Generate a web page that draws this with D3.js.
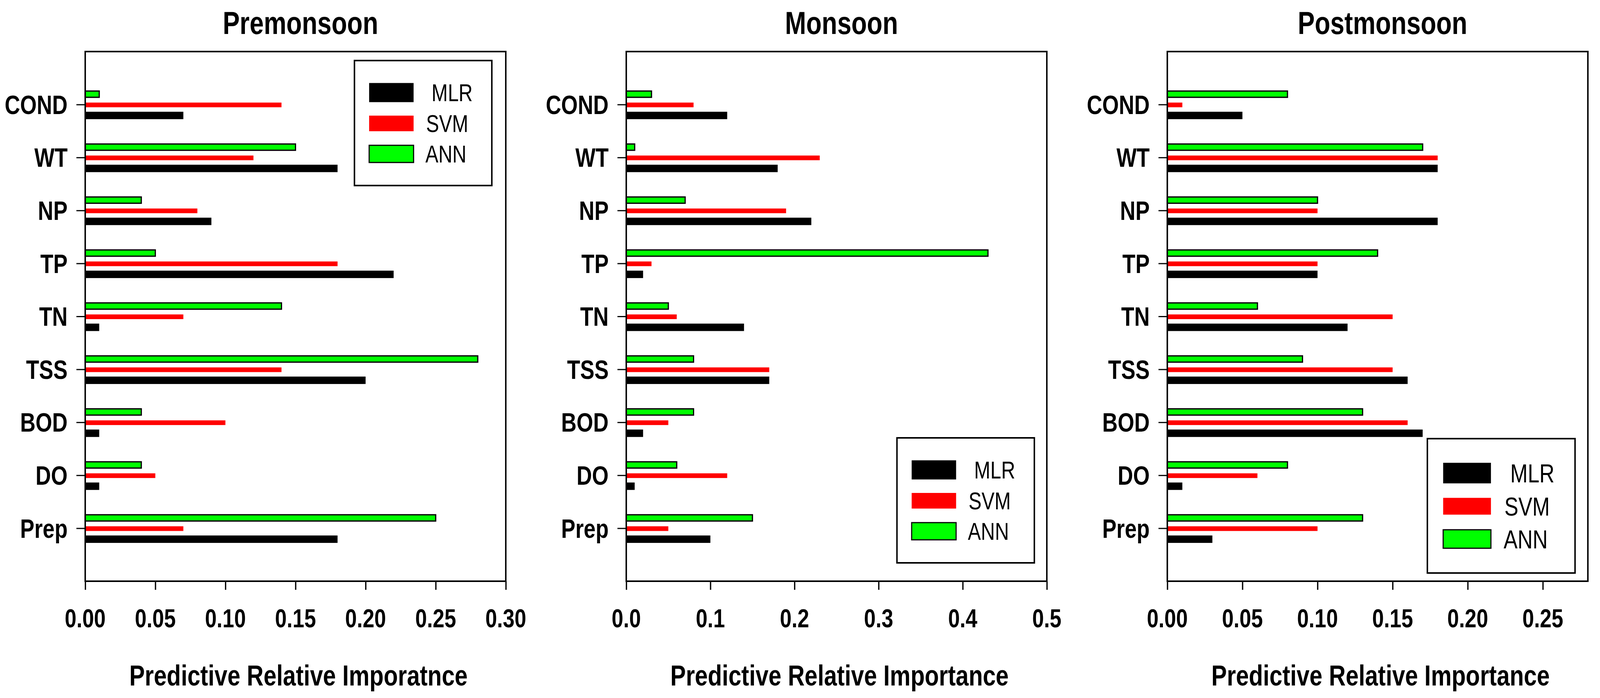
<!DOCTYPE html>
<html>
<head>
<meta charset="utf-8">
<script src="https://cdn.jsdelivr.net/npm/d3@7"></script>
<style>
  html, body { margin: 0; padding: 0; background: #fff; overflow: hidden; }
  #chart { display: block; width: 100vw; height: 100vh; }
  text { font-family: "Liberation Sans", Arial, sans-serif; fill: #000; }
</style>
</head>
<body>
<svg id="chart"></svg>
<script>
// Categories, top to bottom
const categories = ["COND", "WT", "NP", "TP", "TN", "TSS", "BOD", "DO", "Prep"];
const seriesNames = ["MLR", "SVM", "ANN"];

// Premonsoon
const preMLR = [0.07, 0.18, 0.09, 0.22, 0.01, 0.20, 0.01, 0.01, 0.18];
const preSVM = [0.14, 0.12, 0.08, 0.18, 0.07, 0.14, 0.10, 0.05, 0.07];
const preANN = [0.01, 0.15, 0.04, 0.05, 0.14, 0.28, 0.04, 0.04, 0.25];

// Monsoon
const monMLR = [0.12, 0.18, 0.22, 0.02, 0.14, 0.17, 0.02, 0.01, 0.10];
const monSVM = [0.08, 0.23, 0.19, 0.03, 0.06, 0.17, 0.05, 0.12, 0.05];
const monANN = [0.03, 0.01, 0.07, 0.43, 0.05, 0.08, 0.08, 0.06, 0.15];

// Postmonsoon
const postMLR = [0.05, 0.18, 0.18, 0.10, 0.12, 0.16, 0.17, 0.01, 0.03];
const postSVM = [0.01, 0.18, 0.10, 0.10, 0.15, 0.15, 0.16, 0.06, 0.10];
const postANN = [0.08, 0.17, 0.10, 0.14, 0.06, 0.09, 0.13, 0.08, 0.13];

// Tick values
const preTicks = [0, 0.05, 0.10, 0.15, 0.20, 0.25, 0.30];
const monTicks = [0, 0.1, 0.2, 0.3, 0.4, 0.5];
const postTicks = [0, 0.05, 0.10, 0.15, 0.20, 0.25];

const W = 4356, H = 1787;
const TOP = 132, BOTTOM = 1488, PW = 1145;
const SQ = 0.855; // horizontal squeeze, the original font is a narrow one

const panels = [
  { title: "Premonsoon", left: 232, max: 0.30, ticks: preTicks, fmt: ".2f",
    xlabel: "Predictive Relative Imporatnce", vals: [preMLR, preSVM, preANN],
    legend: { x: 733, y: 155, k: 1 } },
  { title: "Monsoon", left: 1705, max: 0.50, ticks: monTicks, fmt: ".1f",
    xlabel: "Predictive Relative Importance", vals: [monMLR, monSVM, monANN],
    legend: { x: 737, y: 1121, k: 1.0 } },
  { title: "Postmonsoon", left: 3178, max: 0.28, ticks: postTicks, fmt: ".2f",
    xlabel: "Predictive Relative Importance", vals: [postMLR, postSVM, postANN],
    legend: { x: 708, y: 1123, k: 1.075 } }
];

// bar look per series: offset from category centre, thickness
const barStyle = {
  MLR: { fill: "#000", dy: 28, h: 19, stroke: "none" },
  SVM: { fill: "#ff0000", dy: 1, h: 12, stroke: "none" },
  ANN: { fill: "#00ff00", dy: -26.5, h: 16, stroke: "#000" }
};

// the drawing is made in reference pixels and stretched to fill the window
const svg = d3.select("#chart")
  .attr("viewBox", `0 0 ${W} ${H}`)
  .attr("preserveAspectRatio", "none");
svg.append("rect").attr("width", W).attr("height", H).attr("fill", "#fff");

const squeezed = (sel, x, y, txt) =>
  sel.append("text")
    .attr("transform", `translate(${x},${y}) scale(${SQ},1)`)
    .text(txt);

panels.forEach((p) => {
  const g = svg.append("g").attr("transform", `translate(${p.left},0)`);

  const x = d3.scaleLinear().domain([0, p.max]).range([0, PW]);
  const y = d3.scalePoint().domain(categories).range([TOP, BOTTOM]).padding(1);

  // bars
  seriesNames.forEach((s, si) => {
    const st = barStyle[s];
    g.append("g")
      .selectAll("rect")
      .data(p.vals[si])
      .join("rect")
      .attr("x", 0)
      .attr("y", (d, i) => y(categories[i]) + st.dy - st.h / 2)
      .attr("width", (d) => x(d))
      .attr("height", st.h)
      .attr("fill", st.fill)
      .attr("stroke", st.stroke)
      .attr("stroke-width", 3.3);
  });

  // frame
  g.append("rect")
    .attr("x", 0).attr("y", TOP)
    .attr("width", PW).attr("height", BOTTOM - TOP)
    .attr("fill", "none").attr("stroke", "#000").attr("stroke-width", 4);

  // y axis
  const ya = g.append("g").call(d3.axisLeft(y).tickSize(24).tickFormat(""));
  ya.select(".domain").remove();
  ya.selectAll(".tick line").attr("stroke", "#000").attr("stroke-width", 3);
  categories.forEach((c) => {
    squeezed(g, -48, y(c), c)
      .attr("dy", "0.355em")
      .attr("text-anchor", "end")
      .attr("font-size", 68)
      .attr("font-weight", "bold");
  });

  // x axis
  const xa = g.append("g")
    .attr("transform", `translate(0,${BOTTOM})`)
    .call(d3.axisBottom(x).tickValues(p.ticks).tickSize(22).tickFormat(""));
  xa.select(".domain").remove();
  xa.selectAll(".tick line").attr("stroke", "#000").attr("stroke-width", 3.5);
  p.ticks.forEach((t) => {
    squeezed(g, x(t), BOTTOM + 118, d3.format(p.fmt)(t))
      .attr("text-anchor", "middle")
      .attr("font-size", 67)
      .attr("font-weight", "bold");
  });

  // titles
  squeezed(g, PW / 2 + 13.5, 87, p.title)
    .attr("text-anchor", "middle")
    .attr("font-size", 81)
    .attr("font-weight", "bold");
  squeezed(g, PW / 2 + 8, 1755, p.xlabel)
    .attr("text-anchor", "middle")
    .attr("font-size", 74)
    .attr("font-weight", "bold");

  // legend
  const L = p.legend, k = L.k;
  const lg = g.append("g").attr("transform", `translate(${L.x},${L.y})`);
  lg.append("rect")
    .attr("width", 374 * k).attr("height", 320 * k)
    .attr("fill", "#fff").attr("stroke", "#000").attr("stroke-width", 4);
  const legRows = [
    { s: "MLR", cy: 82, h: 49, tx: 210 },
    { s: "SVM", cy: 161, h: 40, tx: 195 },
    { s: "ANN", cy: 239, h: 44, tx: 193 }
  ];
  legRows.forEach((r) => {
    const st = barStyle[r.s];
    lg.append("rect")
      .attr("x", 40 * k).attr("y", (r.cy - r.h / 2) * k)
      .attr("width", 121 * k).attr("height", r.h * k)
      .attr("fill", st.fill)
      .attr("stroke", st.stroke).attr("stroke-width", 3);
    squeezed(lg, r.tx * k, (r.cy + 22) * k, r.s)
      .attr("font-size", 62 * k);
  });
});
</script>
</body>
</html>
